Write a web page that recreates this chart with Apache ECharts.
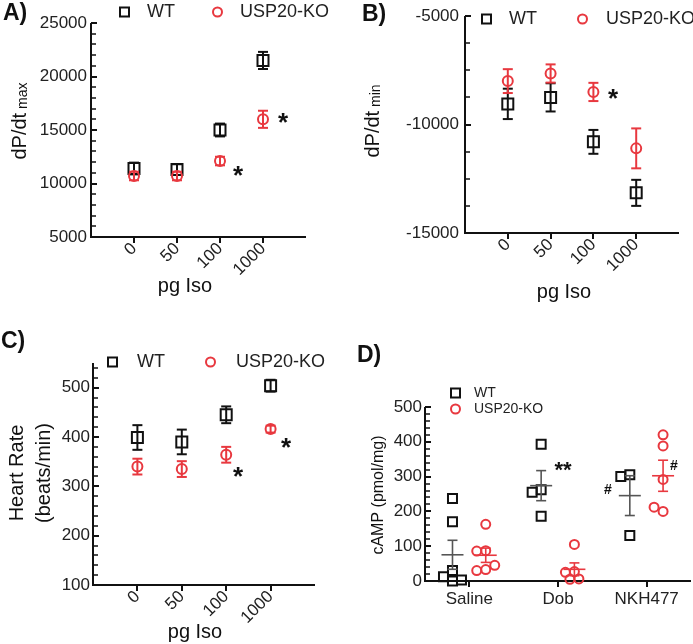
<!DOCTYPE html>
<html><head><meta charset="utf-8">
<script src="https://cdn.jsdelivr.net/npm/echarts@6/dist/echarts.min.js"></script>
<style>html,body{margin:0;padding:0;background:#fff}#c{width:693px;height:644px}</style>
</head><body><div id="c"></div>
<script>
// ---------- data ----------
const isoDoses = ['0', '50', '100', '1000'];
const dpdtMaxWT = [11400, 11300, 15000, 21500];
const dpdtMaxWTErr = [550, 500, 600, 800];
const dpdtMaxKO = [10700, 10700, 12100, 16000];
const dpdtMaxKOErr = [400, 400, 400, 800];
const dpdtMinWT = [-9050, -8750, -10800, -13150];
const dpdtMinWTErr = [700, 650, 550, 600];
const dpdtMinKO = [-8000, -7650, -8500, -11100];
const dpdtMinKOErr = [550, 420, 420, 920];
const hrWT = [399, 390, 445, 504];
const hrWTErr = [25, 25, 17, 12];
const hrKO = [340, 335, 364, 416];
const hrKOErr = [16, 16, 16, 7];
const treatments = ['Saline', 'Dob', 'NKH477'];
const campWT = [[237, 170, 30, 12, 0, 3], [393, 262, 255, 186], [305, 300, 131]];
const campKO = [[163, 87, 86, 33, 30, 45], [105, 27, 25, 6, 5], [420, 388, 292, 200, 212]];

// ---------- styles ----------
const FONT = 'Liberation Sans';
const BLACK = '#111';
const RED = '#e8383f';
const GREY = '#555';
const isoCats = [''].concat(isoDoses, ['']);

// y-axis ranges per panel
const yRanges = [
  { min: 5000, max: 25000, interval: 5000, minorN: 5 },
  { min: -15000, max: -5000, interval: 5000, minorN: 4 },
  { min: 100, max: 550, interval: 100, minorN: 5 },
  { min: 0, max: 500, interval: 100, minorN: 5 }
];

function errRender(color, capHalf) {
  return function (params, api) {
    const x = api.value(0), y = api.value(1), e = api.value(2);
    const t = api.coord([x, y + e]), b = api.coord([x, y - e]);
    const c = t[0];
    const st = () => ({ stroke: color, lineWidth: 2 });
    return { type: 'group', children: [
      { type: 'line', shape: { x1: c, y1: t[1], x2: c, y2: b[1] }, style: st() },
      { type: 'line', shape: { x1: c - capHalf, y1: t[1], x2: c + capHalf, y2: t[1] }, style: st() },
      { type: 'line', shape: { x1: c - capHalf, y1: b[1], x2: c + capHalf, y2: b[1] }, style: st() }
    ]};
  };
}
function meanRender(color, halfW, capHalf) {
  return function (params, api) {
    const x = api.value(0), m = api.value(1), e = api.value(2);
    const p = api.coord([x, m]), t = api.coord([x, m + e]), b = api.coord([x, m - e]);
    const c = p[0];
    const st = () => ({ stroke: color, lineWidth: 1.6 });
    return { type: 'group', children: [
      { type: 'line', shape: { x1: c - halfW, y1: p[1], x2: c + halfW, y2: p[1] }, style: st() },
      { type: 'line', shape: { x1: c, y1: t[1], x2: c, y2: b[1] }, style: st() },
      { type: 'line', shape: { x1: c - capHalf, y1: t[1], x2: c + capHalf, y2: t[1] }, style: st() },
      { type: 'line', shape: { x1: c - capHalf, y1: b[1], x2: c + capHalf, y2: b[1] }, style: st() }
    ]};
  };
}
// axis lines and ticks, placed through the axes' own scales
function frameRender(rng, xTickCats) {
  return function (params, api) {
    const cs = params.coordSys;
    const left = Math.round(cs.x), top = Math.round(cs.y);
    const bottom = Math.round(cs.y + cs.height), right = Math.round(cs.x + cs.width);
    const ch = [
      { type: 'line', shape: { x1: left, y1: bottom, x2: right, y2: bottom }, style: { stroke: BLACK, lineWidth: 2 } },
      { type: 'line', shape: { x1: left, y1: bottom + 1, x2: left, y2: top }, style: { stroke: BLACK, lineWidth: 2 } }
    ];
    xTickCats.forEach(c => {
      const x = Math.round(api.coord([c, rng.min])[0]);
      ch.push({ type: 'line', shape: { x1: x, y1: bottom, x2: x, y2: bottom + 6 }, style: { stroke: BLACK, lineWidth: 2 } });
    });
    const step = rng.interval / rng.minorN;
    const n = Math.floor((rng.max - rng.min) / step + 1e-9);
    for (let k = 0; k <= n; k++) {
      const v = rng.min + k * step;
      const major = k % rng.minorN === 0;
      const y = Math.round(api.coord([xTickCats[0], v])[1]);
      ch.push({ type: 'line', shape: { x1: left, y1: y, x2: left + (major ? 6 : 5), y2: y },
        style: { stroke: BLACK, lineWidth: major ? 2 : 1.5 } });
    }
    return { type: 'group', children: ch };
  };
}
function frameSeries(xi, yi, xTickCats) {
  return { type: 'custom', name: 'frame' + yi, xAxisIndex: xi, yAxisIndex: yi, clip: false, silent: true,
    encode: { x: 0, y: 1 }, renderItem: frameRender(yRanges[yi], xTickCats),
    data: [[xTickCats[0], yRanges[yi].min]], z: 1 };
}

const notEmpty = (i, v) => v !== '';
function isoX(gi) {
  return {
    type: 'category', gridIndex: gi, data: isoCats, boundaryGap: false,
    axisLine: { show: false, onZero: false },
    axisTick: { show: false },
    axisLabel: { interval: notEmpty, rotate: 45, fontSize: 17, color: '#222', margin: 9, fontFamily: FONT },
    splitLine: { show: false }
  };
}
function valY(gi, margin, fmt) {
  const r = yRanges[gi];
  return {
    type: 'value', gridIndex: gi, min: r.min, max: r.max, interval: r.interval,
    axisLine: { show: false, onZero: false },
    axisTick: { show: false }, minorTick: { show: false },
    axisLabel: { fontSize: 17, color: '#222', margin, fontFamily: FONT, formatter: fmt || (v => String(v)) },
    splitLine: { show: false }, minorSplitLine: { show: false }
  };
}

function isoSeries(gi, wt, wtErr, ko, koErr) {
  return [
    { type: 'custom', name: 'wtErr' + gi, xAxisIndex: gi, yAxisIndex: gi, clip: false,
      renderItem: errRender(BLACK, 5), encode: { x: 0, y: 1 },
      data: isoDoses.map((d, i) => [d, wt[i], wtErr[i]]), z: 2 },
    { type: 'scatter', name: 'WT', xAxisIndex: gi, yAxisIndex: gi, symbol: 'rect', symbolSize: 11,
      itemStyle: { color: 'transparent', borderColor: BLACK, borderWidth: 2, opacity: 1 },
      data: isoDoses.map((d, i) => [d, wt[i]]), z: 3 },
    { type: 'custom', name: 'koErr' + gi, xAxisIndex: gi, yAxisIndex: gi, clip: false,
      renderItem: errRender(RED, 5), encode: { x: 0, y: 1 },
      data: isoDoses.map((d, i) => [d, ko[i], koErr[i]]), z: 4 },
    { type: 'scatter', name: 'USP20-KO', xAxisIndex: gi, yAxisIndex: gi, symbol: 'circle', symbolSize: 10,
      itemStyle: { color: 'transparent', borderColor: RED, borderWidth: 2, opacity: 1 },
      data: isoDoses.map((d, i) => [d, ko[i]]), z: 5 }
  ];
}

// beeswarm-style spreading of overlapping points (layout derived from data)
const D_X_PX = 266 / 3, D_Y_PX = 174 / 500, D_SIZE = 9;
function swarm(vals, center) {
  const placed = [], out = [];
  vals.forEach(v => {
    const ypx = v * D_Y_PX;
    let off = 0;
    for (let n = 0; n < 30; n++) {
      off = n === 0 ? 0 : (n % 2 ? -1 : 1) * Math.ceil(n / 2) * D_SIZE * 0.5;
      if (placed.every(p => Math.hypot(p[0] - off, p[1] - ypx) >= D_SIZE * 0.9)) break;
    }
    placed.push([off, ypx]);
    out.push([center + off / D_X_PX, v]);
  });
  return out;
}
function meanSem(a) {
  const m = a.reduce((s, v) => s + v, 0) / a.length;
  const sd = Math.sqrt(a.reduce((s, v) => s + (v - m) * (v - m), 0) / (a.length - 1));
  return [m, sd / Math.sqrt(a.length)];
}
const WT_OFF = -0.19, KO_OFF = 0.185;
const dWTPts = [], dKOPts = [], dWTMean = [], dKOMean = [];
treatments.forEach((t, g) => {
  dWTPts.push(...swarm(campWT[g], g + WT_OFF));
  dKOPts.push(...swarm(campKO[g], g + KO_OFF));
  const a = meanSem(campWT[g]), b = meanSem(campKO[g]);
  dWTMean.push([g + WT_OFF, a[0], a[1]]);
  dKOMean.push([g + KO_OFF, b[0], b[1]]);
});

function legendItem(name, icon, stroke, left, top, fs, pad) {
  return {
    data: [{ name, icon, itemStyle: { color: 'transparent', borderColor: stroke, borderWidth: 2 } }],
    left, top, itemWidth: 9, itemHeight: 9, itemGap: 0, selectedMode: false, padding: 0,
    textStyle: { fontSize: fs, color: '#222', fontFamily: FONT, padding: [0, 0, 0, pad] }
  };
}
function txt(x, y, text, size, opts) {
  return { type: 'text', x, y, style: Object.assign({
    text, fontSize: size, fontFamily: FONT, fill: '#111', align: 'center', verticalAlign: 'middle'
  }, opts || {}) };
}
const richSub = { a: { fontSize: 20, fontFamily: FONT, fill: '#111' }, b: { fontSize: 14, fontFamily: FONT, fill: '#111', verticalAlign: 'bottom' } };

const isoTickCats = isoDoses;          // ticks at the four dose categories
const option = {
  animation: false,
  grid: [
    { left: 91, top: 23, width: 215, height: 214 },
    { left: 465, top: 16, width: 214, height: 217 },
    { left: 93, top: 363, width: 222, height: 222 },
    { left: 425, top: 407, width: 266, height: 174 }
  ],
  xAxis: [
    isoX(0), isoX(1), isoX(2),
    { type: 'category', gridIndex: 3, data: treatments, boundaryGap: true,
      axisLine: { show: false, onZero: false }, axisTick: { show: false },
      axisLabel: { interval: 0, fontSize: 17, color: '#222', margin: 10, fontFamily: FONT },
      splitLine: { show: false } },
    { type: 'value', gridIndex: 3, min: -0.5, max: 2.5, show: false,
      axisLine: { onZero: false }, splitLine: { show: false } }
  ],
  yAxis: [
    valY(0, 4),
    valY(1, 6),
    valY(2, 3, v => (v % 100 === 0 && v <= 500 ? String(v) : '')),
    valY(3, 3)
  ],
  legend: [
    legendItem('WT', 'rect', BLACK, 119, 3, 18, 13),
    legendItem('USP20-KO', 'circle', RED, 212, 3, 18, 13),
    legendItem('WT', 'rect', BLACK, 481, 10, 18, 13),
    legendItem('USP20-KO', 'circle', RED, 577, 10, 18, 14),
    legendItem('WT', 'rect', BLACK, 107, 353, 18, 15),
    legendItem('USP20-KO', 'circle', RED, 205, 353, 18, 16),
    legendItem('WT', 'rect', BLACK, 450, 386, 14, 9),
    legendItem('USP20-KO', 'circle', RED, 450, 402, 14, 9)
  ],
  series: [
    frameSeries(0, 0, isoTickCats),
    frameSeries(1, 1, isoTickCats),
    frameSeries(2, 2, isoTickCats),
    frameSeries(3, 3, treatments),
    ...isoSeries(0, dpdtMaxWT, dpdtMaxWTErr, dpdtMaxKO, dpdtMaxKOErr),
    ...isoSeries(1, dpdtMinWT, dpdtMinWTErr, dpdtMinKO, dpdtMinKOErr),
    ...isoSeries(2, hrWT, hrWTErr, hrKO, hrKOErr),
    { type: 'scatter', name: 'WT', xAxisIndex: 4, yAxisIndex: 3, symbol: 'rect', symbolSize: D_SIZE,
      itemStyle: { color: 'transparent', borderColor: BLACK, borderWidth: 2, opacity: 1 }, data: dWTPts, z: 3 },
    { type: 'scatter', name: 'USP20-KO', xAxisIndex: 4, yAxisIndex: 3, symbol: 'circle', symbolSize: D_SIZE,
      itemStyle: { color: 'transparent', borderColor: RED, borderWidth: 2, opacity: 1 }, data: dKOPts, z: 3 },
    { type: 'custom', name: 'wtMean', xAxisIndex: 4, yAxisIndex: 3, clip: false, encode: { x: 0, y: 1 },
      renderItem: meanRender(GREY, 11, 5), data: dWTMean, z: 4 },
    { type: 'custom', name: 'koMean', xAxisIndex: 4, yAxisIndex: 3, clip: false, encode: { x: 0, y: 1 },
      renderItem: meanRender(RED, 11, 5), data: dKOMean, z: 4 }
  ],
  graphic: [
    txt(3, 14, 'A)', 23, { fontWeight: 'bold', align: 'left' }),
    txt(362, 15, 'B)', 23, { fontWeight: 'bold', align: 'left' }),
    txt(1, 342, 'C)', 23, { fontWeight: 'bold', align: 'left' }),
    txt(357, 356, 'D)', 23, { fontWeight: 'bold', align: 'left' }),
    Object.assign(txt(20, 121, '{a|dP/dt}{b| max}', 20, { rich: richSub }), { rotation: Math.PI / 2 }),
    Object.assign(txt(373, 121, '{a|dP/dt}{b| min}', 20, { rich: richSub }), { rotation: Math.PI / 2 }),
    Object.assign(txt(31, 473, 'Heart Rate\n(beats/min)', 20, { lineHeight: 27 }), { rotation: Math.PI / 2 }),
    Object.assign(txt(379, 495, 'cAMP (pmol/mg)', 16), { rotation: Math.PI / 2 }),
    txt(185, 286, 'pg Iso', 20),
    txt(564, 292, 'pg Iso', 20),
    txt(195, 632, 'pg Iso', 20),
    txt(238, 177, '*', 26, { fontWeight: 'bold' }),
    txt(283, 124, '*', 26, { fontWeight: 'bold' }),
    txt(613, 100, '*', 26, { fontWeight: 'bold' }),
    txt(238, 478, '*', 26, { fontWeight: 'bold' }),
    txt(286, 449, '*', 26, { fontWeight: 'bold' }),
    txt(563, 471, '**', 22, { fontWeight: 'bold' }),
    txt(608, 490, '#', 14, { fontWeight: 'bold' }),
    txt(674, 466, '#', 14, { fontWeight: 'bold' })
  ]
};

const chart = echarts.init(document.getElementById('c'));
chart.setOption(option);
</script>
</body></html>
